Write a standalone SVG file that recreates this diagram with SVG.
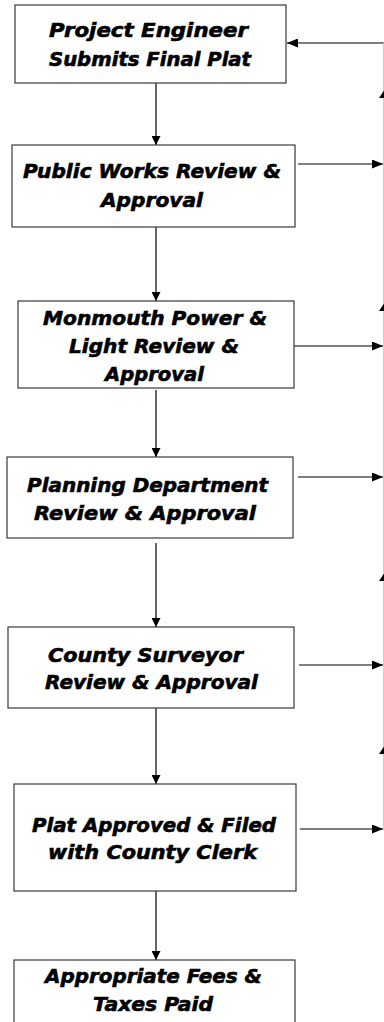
<svg xmlns="http://www.w3.org/2000/svg" width="384" height="1022" viewBox="0 0 384 1022">
<defs>
<style>
.box{fill:#fff;stroke:#3a3a3a;stroke-width:1.2}
.t{font-family:"DejaVu Sans","Verdana",sans-serif;font-weight:bold;font-style:italic;font-size:19px;fill:#000;stroke:#000;stroke-width:0.6}
.c{stroke:#000;stroke-width:1.2;fill:none}
</style>
<marker id="ah" markerUnits="userSpaceOnUse" markerWidth="11" markerHeight="9" refX="11" refY="4.5" orient="auto">
<path d="M0,0 L11,4.5 L0,9 z" fill="#000"/>
</marker>
<marker id="ahd" markerUnits="userSpaceOnUse" markerWidth="9" markerHeight="9" refX="9" refY="4.5" orient="auto">
<path d="M0,0 L9,4.5 L0,9 z" fill="#000"/>
</marker>
</defs>
<rect width="384" height="1022" fill="#fff"/>
<g id="connectors">
<line class="c" x1="156" y1="83" x2="156" y2="145" marker-end="url(#ahd)"/>
<line class="c" x1="156" y1="227" x2="156" y2="301" marker-end="url(#ahd)"/>
<line class="c" x1="156" y1="390" x2="156" y2="457" marker-end="url(#ahd)"/>
<line class="c" x1="156" y1="543" x2="156" y2="627" marker-end="url(#ahd)"/>
<line class="c" x1="156" y1="708" x2="156" y2="784" marker-end="url(#ahd)"/>
<line class="c" x1="156" y1="891" x2="156" y2="960" marker-end="url(#ahd)"/>
<line class="c" x1="386" y1="43" x2="287" y2="43" marker-end="url(#ah)"/>
<line class="c" x1="298" y1="164" x2="383" y2="164" marker-end="url(#ah)"/>
<line class="c" x1="292" y1="346" x2="383" y2="346" marker-end="url(#ah)"/>
<line class="c" x1="298" y1="477" x2="383" y2="477" marker-end="url(#ah)"/>
<line class="c" x1="299" y1="665" x2="383" y2="665" marker-end="url(#ah)"/>
<line class="c" x1="300" y1="829" x2="383" y2="829" marker-end="url(#ah)"/>
<line x1="383.5" y1="43" x2="383.5" y2="830" stroke="#cfcfcf" stroke-width="1"/>
<path d="M385,89 L390,98 L379,98 z" fill="#000"/>
<path d="M385,302 L390,311 L379,311 z" fill="#000"/>
<path d="M385,572 L390,581 L379,581 z" fill="#000"/>
<path d="M385,745 L390,754 L379,754 z" fill="#000"/>
</g>
<g id="n1">
<rect class="box" x="15" y="5" width="271" height="78"/>
<text class="t" x="49" y="37" textLength="199" lengthAdjust="spacingAndGlyphs">Project Engineer</text>
<text class="t" x="49" y="66" textLength="202" lengthAdjust="spacingAndGlyphs">Submits Final Plat</text>
</g>
<g id="n2">
<rect class="box" x="12" y="145" width="283" height="82"/>
<text class="t" x="23" y="178" textLength="258" lengthAdjust="spacingAndGlyphs">Public Works Review &amp;</text>
<text class="t" x="101" y="207" textLength="102" lengthAdjust="spacingAndGlyphs">Approval</text>
</g>
<g id="n3">
<rect class="box" x="18" y="301" width="276" height="87"/>
<text class="t" x="43" y="325" textLength="224" lengthAdjust="spacingAndGlyphs">Monmouth Power &amp;</text>
<text class="t" x="69" y="353" textLength="170" lengthAdjust="spacingAndGlyphs">Light Review &amp;</text>
<text class="t" x="105" y="381" textLength="99" lengthAdjust="spacingAndGlyphs">Approval</text>
</g>
<g id="n4">
<rect class="box" x="7" y="457" width="286" height="81"/>
<text class="t" x="27" y="492" textLength="241" lengthAdjust="spacingAndGlyphs">Planning Department</text>
<text class="t" x="34" y="520" textLength="222" lengthAdjust="spacingAndGlyphs">Review &amp; Approval</text>
</g>
<g id="n5">
<rect class="box" x="8" y="627" width="286" height="81"/>
<text class="t" x="48" y="662" textLength="195" lengthAdjust="spacingAndGlyphs">County Surveyor</text>
<text class="t" x="45" y="689" textLength="213" lengthAdjust="spacingAndGlyphs">Review &amp; Approval</text>
</g>
<g id="n6">
<rect class="box" x="14" y="784" width="282" height="107"/>
<text class="t" x="32" y="832" textLength="244" lengthAdjust="spacingAndGlyphs">Plat Approved &amp; Filed</text>
<text class="t" x="48" y="859" textLength="209" lengthAdjust="spacingAndGlyphs">with County Clerk</text>
</g>
<g id="n7">
<rect class="box" x="14" y="960" width="281" height="70"/>
<text class="t" x="45" y="983" textLength="217" lengthAdjust="spacingAndGlyphs">Appropriate Fees &amp;</text>
<text class="t" x="93" y="1011" textLength="120" lengthAdjust="spacingAndGlyphs">Taxes Paid</text>
</g>
</svg>
